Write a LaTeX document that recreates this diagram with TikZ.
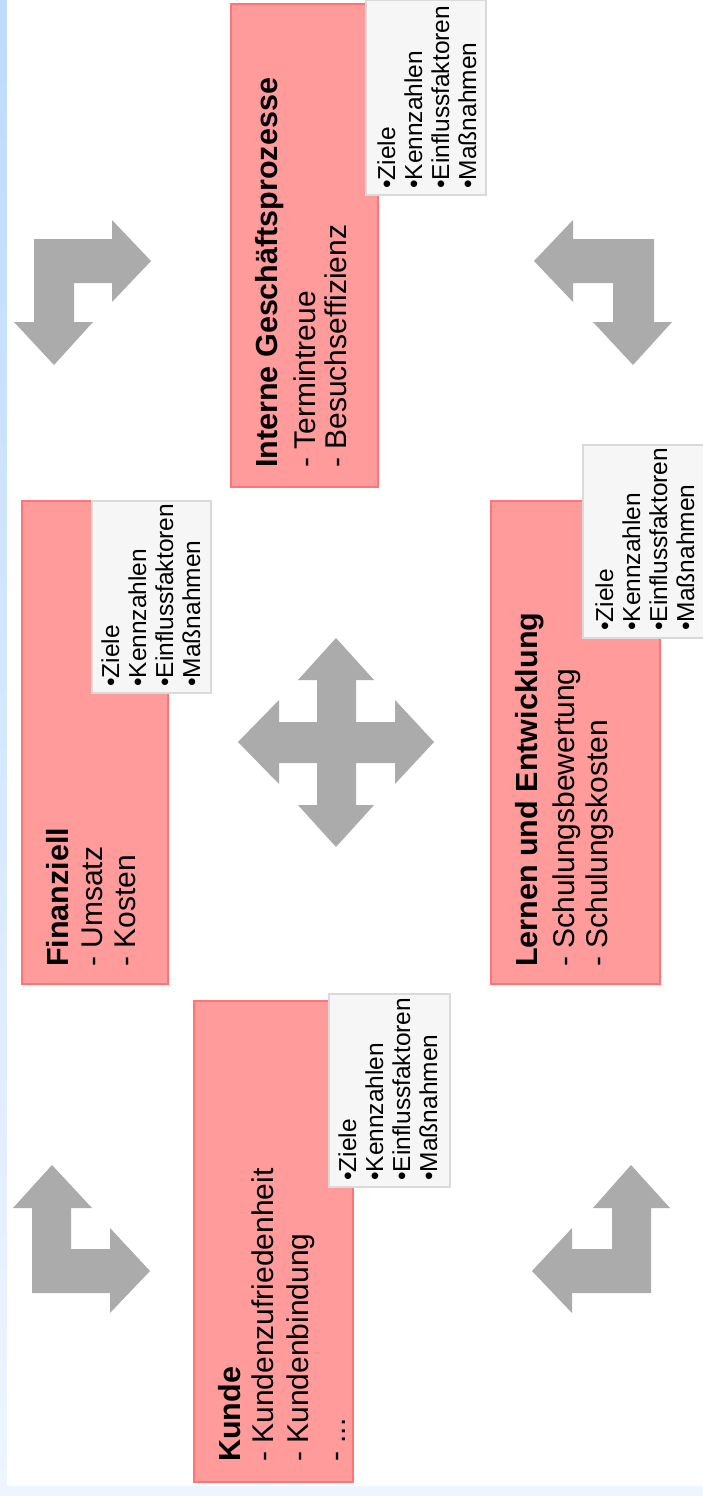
\documentclass[tikz,border=0pt]{standalone}
\usepackage{fontspec}
\setmainfont{Liberation Sans}
\definecolor{pinkfill}{HTML}{FF9B9B}
\definecolor{pinkline}{HTML}{FF7474}
\definecolor{notefill}{HTML}{F6F6F6}
\definecolor{noteline}{HTML}{DADADA}
\definecolor{arrowgray}{HTML}{ABABAB}
\definecolor{stripblue}{HTML}{EEF5FF}
\definecolor{striptop}{HTML}{BDDAFF}
\newcommand{\noteitems}[3]{%
  \node[nt] (#1a) at (#2,#3) {•Ziele};
  \node[nt] (#1b) at ({#2+27},#3) {•Kennzahlen};
  \node[nt] (#1c) at ({#2+54},#3) {•Einflussfaktoren};
  \node[nt] (#1d) at ({#2+81},#3) {•Maßnahmen};
}
\begin{document}
\begin{tikzpicture}[x=1pt, y=-1pt,
  pinkbox/.style={draw=pinkline, line width=1.2pt, fill=pinkfill, inner sep=0pt, outer sep=0pt, anchor=north west},
  notebox/.style={draw=noteline, line width=1.2pt, fill=notefill, inner sep=0pt, outer sep=0pt, anchor=north west},
  hd/.style={rotate=90, anchor=base west, inner sep=0pt, font=\fontsize{30.5}{34}\selectfont\bfseries},
  ln/.style={rotate=90, anchor=base west, inner sep=0pt, font=\fontsize{30}{34}\selectfont},
  nt/.style={rotate=90, anchor=base west, inner sep=0pt, font=\fontsize{24.5}{27}\selectfont},
  bigarrow/.style={fill=arrowgray, draw=none}]
\useasboundingbox (0,0) rectangle (703,1496);
% background
\fill[stripblue] (0,0) rectangle (703,1496);
\shade[top color=striptop, bottom color=stripblue] (0,0) rectangle (7,1496);
\fill[white] (7,0) rectangle (703,1486);

% pink boxes
\node[pinkbox, minimum width=147pt, minimum height=483pt] (ibox) at (231,4) {};
\node[pinkbox, minimum width=146pt, minimum height=483pt] (fbox) at (22,501) {};
\node[pinkbox, minimum width=169pt, minimum height=483pt] (lbox) at (491,501) {};
\node[pinkbox, minimum width=159pt, minimum height=481pt] (kbox) at (194,1001) {};

% note boxes
\node[notebox, minimum width=120pt, minimum height=195pt] (inote) at (366,0) {};
\node[notebox, minimum width=119pt, minimum height=192pt] (fnote) at (92,501) {};
\node[notebox, minimum width=125pt, minimum height=193pt] (lnote) at (583,445) {};
\node[notebox, minimum width=121pt, minimum height=193pt] (knote) at (329,994) {};

% box texts
\node[hd] (ih) at (277.5,468) {Interne Geschäftsprozesse};
\node[ln] (i1) at (315.5,468) {- Termintreue};
\node[ln] (i2) at (346.5,468) {- Besuchseffizienz};

\node[hd] (fh) at (68.5,967) {Finanziell};
\node[ln] (f1) at (102,967) {- Umsatz};
\node[ln] (f2) at (135.5,967) {- Kosten};

\node[hd] (lh) at (537.5,967) {Lernen und Entwicklung};
\node[ln] (l1) at (574.5,967) {- Schulungsbewertung};
\node[ln] (l2) at (607.5,967) {- Schulungskosten};

\node[hd] (kh) at (240.5,1462) {Kunde};
\node[ln] (k1) at (273.5,1462) {- Kundenzufriedenheit};
\node[ln] (k2) at (308.5,1462) {- Kundenbindung};
\node[ln] (k3) at (345,1462) {- ...};

% note texts
\noteitems{in}{395}{189}
\noteitems{fn}{119}{687}
\noteitems{ln}{613}{631}
\noteitems{kn}{356}{1181}

% arrows (shapes)
\fill[bigarrow] (34,239) -- (112,239) -- (112,220) -- (151,261) -- (112,302) -- (112,283)
  -- (74,283) -- (74,322) -- (93,322) -- (54,365) -- (14,322) -- (34,322) -- cycle;
\fill[bigarrow] (654,239) -- (573,239) -- (573,220) -- (534,261) -- (573,302) -- (573,283)
  -- (613,283) -- (613,322) -- (593,322) -- (633,365) -- (672,322) -- (654,322) -- cycle;
\fill[bigarrow] (32,1293) -- (32,1208) -- (13,1208) -- (52,1165) -- (92,1208) -- (71,1208)
  -- (71,1249) -- (110,1249) -- (110,1228) -- (150,1271) -- (110,1313) -- (110,1293) -- cycle;
\fill[bigarrow] (651,1293) -- (651,1208) -- (670,1208) -- (631,1165) -- (593,1208) -- (612,1208)
  -- (612,1249) -- (572,1249) -- (572,1228) -- (532,1271) -- (572,1313) -- (572,1293) -- cycle;
\fill[bigarrow] (317,722) -- (317,680) -- (298,680) -- (336,638) -- (374,680) -- (356,680)
  -- (356,722) -- (395,722) -- (395,700) -- (434,742) -- (395,784) -- (395,763)
  -- (356,763) -- (356,805) -- (374,805) -- (336,847) -- (298,805) -- (317,805)
  -- (317,763) -- (279,763) -- (279,784) -- (238,742) -- (279,700) -- (279,722) -- cycle;
\end{tikzpicture}
\end{document}
